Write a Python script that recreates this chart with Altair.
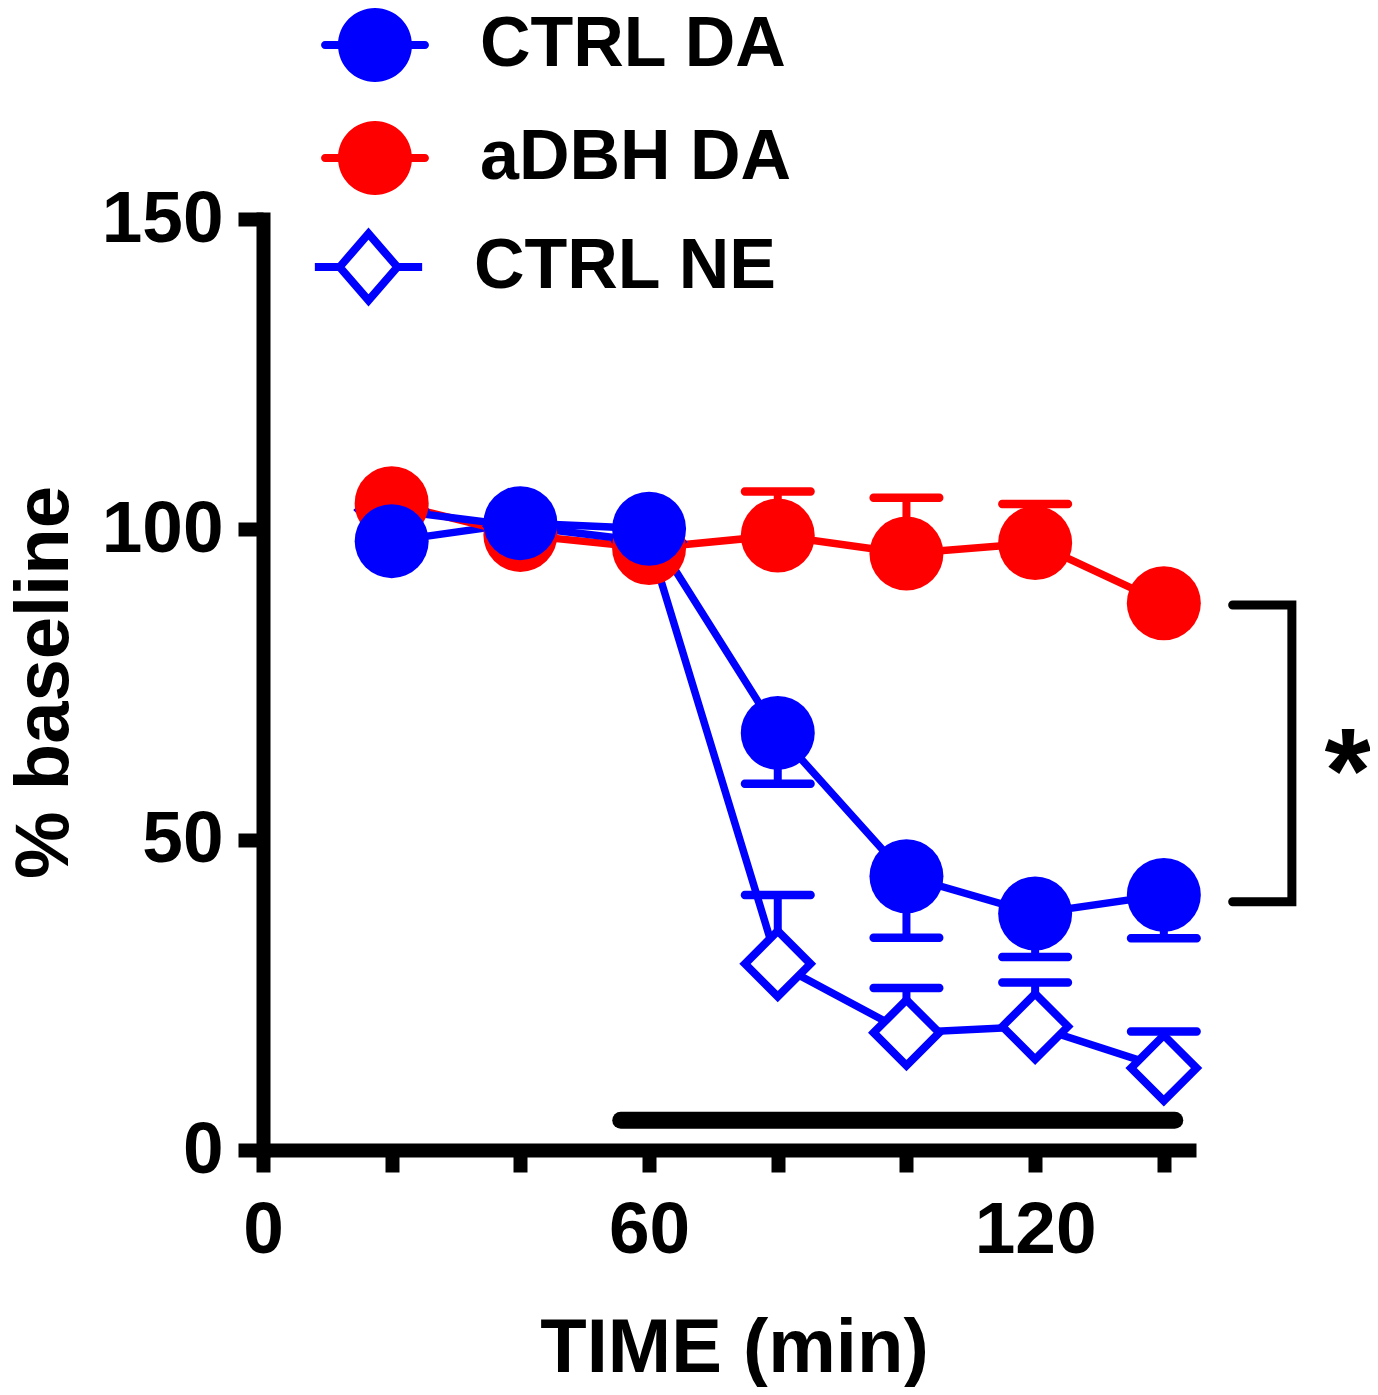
import altair as alt
import pandas as pd

FONT = "Liberation Sans"

# ---- data ----
time_min = [20, 40, 60, 80, 100, 120, 140]
series_names = ["CTRL DA", "aDBH DA", "CTRL NE"]
series_colors = ["#0000ff", "#ff0000", "#0000ff"]

ctrl_da = [98.1, 101.0, 100.1, 67.2, 44.1, 38.1, 41.1]
adbh_da = [104.2, 99.1, 97.0, 99.0, 96.1, 97.8, 88.1]
ctrl_ne = [103.1, 100.5, 98.0, 30.0, 18.9, 19.9, 13.2]

ctrl_da_sem = [None, None, None, 8.2, 9.9, 7.0, 7.0]
adbh_da_sem = [None, None, None, 7.1, 9.0, 6.3, None]
ctrl_ne_sem = [None, None, None, 11.1, 7.2, 7.1, 5.9]

# error bars drawn one-sided: down for CTRL DA, up for the others
err_direction = [-1, 1, 1]

# annotations
treatment_start = 55.6
treatment_end = 141.7
treatment_level = 4.8
bracket_time = [150.7, 159.9, 159.9, 150.7]
bracket_level = [87.8, 87.8, 40.0, 40.0]
star_time = [168.6]
star_level = [63.8]
star_text = ["*"]

# ---- tables ----
rows = []
for name, vals, sems, d in zip(series_names, [ctrl_da, adbh_da, ctrl_ne],
                               [ctrl_da_sem, adbh_da_sem, ctrl_ne_sem], err_direction):
    for t, v, s in zip(time_min, vals, sems):
        rows.append({"series": name, "time": t, "value": v,
                     "cap": (v + d * s) if s is not None else None})
df = pd.DataFrame(rows)
df_err = df.dropna(subset=["cap"])
df_ne = df[df.series == "CTRL NE"]
# red drawn first, blue on top
df_da = pd.concat([df[df.series == "aDBH DA"], df[df.series == "CTRL DA"]])

df_bar = pd.DataFrame({"time": [treatment_start], "time2": [treatment_end], "value": [treatment_level]})
df_bracket = pd.DataFrame({"time": bracket_time, "value": bracket_level, "idx": list(range(len(bracket_time)))})
df_star = pd.DataFrame({"time": star_time, "value": star_level, "label": star_text})

# ---- axes / scales ----
x_scale = alt.Scale(domain=[0, 145], nice=False, zero=False)
y_scale = alt.Scale(domain=[0, 150], nice=False, zero=False)

x_axis = alt.Axis(
    values=[0, 20, 40, 60, 80, 100, 120, 140],
    labelExpr="datum.value % 60 === 0 ? datum.label : ''",
    grid=False, domainWidth=14, domainColor="black", domainCap="butt",
    tickWidth=14, tickSize=22, tickColor="black",
    labelFont=FONT, labelFontSize=73, labelFontWeight="bold", labelColor="black",
    labelPadding=22, labelAngle=0, labelFlush=False, labelOverlap=False,
    title="TIME (min)", titleFont=FONT, titleFontSize=76, titleFontWeight="bold",
    titleColor="black", titleX=471, titleY=221, titleBaseline="alphabetic",
    titleAlign="center",
)
y_axis = alt.Axis(
    values=[0, 50, 100, 150],
    grid=False, domainWidth=14, domainColor="black", domainCap="square",
    tickWidth=14, tickSize=25, tickColor="black",
    labelFont=FONT, labelFontSize=73, labelFontWeight="bold", labelColor="black",
    labelPadding=15, labelOverlap=False,
    title="% baseline", titleFont=FONT, titleFontSize=76, titleFontWeight="bold",
    titleColor="black", titleAngle=270, titleX=-196, titleY=463,
    titleBaseline="alphabetic", titleAlign="center",
)

X = alt.X("time:Q", scale=x_scale, axis=x_axis)


def Y(field):
    return alt.Y(f"{field}:Q", scale=y_scale, axis=y_axis)


color_enc = alt.Color("series:N", scale=alt.Scale(domain=series_names, range=series_colors), legend=None)

CIRCLE_LEGEND = ("M1,0A1,1,0,1,1,-1,0A1,1,0,1,1,1,0Z"
                 "M0.95,-0.108L1.35,-0.108A0.108,0.108,0,0,1,1.35,0.108L0.95,0.108Z"
                 "M-0.95,0.108L-1.35,0.108A0.108,0.108,0,0,1,-1.35,-0.108L-0.95,-0.108Z")
DIAMOND_LEGEND = "M-0.78,0L0,-0.9L0.78,0L0,0.9ZM-1.45,0L-0.78,0M0.78,0L1.45,0"

legend_common = dict(
    title=None, orient="none", padding=0, symbolOpacity=1,
    labelFont=FONT, labelFontSize=70, labelFontWeight="bold", labelColor="black",
    labelLimit=800,
)
legend_da = alt.Legend(legendX=75, legendY=-211, symbolType=CIRCLE_LEGEND, symbolSize=5476,
                       symbolStrokeWidth=0, labelOffset=68, rowPadding=39, **legend_common)
legend_ne = alt.Legend(legendX=64.5, legendY=7, symbolType=DIAMOND_LEGEND, symbolSize=5476,
                       symbolStrokeWidth=8, symbolFillColor="white", labelOffset=64.5,
                       **legend_common)

base = alt.Chart(df)

lines = base.mark_line(strokeWidth=7.5).encode(x=X, y=Y("value"), color=color_enc)

err_rules = alt.Chart(df_err).mark_rule(strokeWidth=8).encode(
    x=X, y=Y("value"), y2="cap:Q", color=color_enc)
err_caps = alt.Chart(df_err).mark_tick(
    orient="horizontal", size=74, thickness=8.5, cornerRadius=4, opacity=1
).encode(x=X, y=Y("cap"), color=color_enc)

diamonds = alt.Chart(df_ne).mark_point(
    shape="diamond", size=4300, strokeWidth=8, filled=False, fill="white", opacity=1
).encode(
    x=X, y=Y("value"),
    stroke=alt.Stroke("series:N", scale=alt.Scale(domain=["CTRL NE"], range=["#0000ff"]), legend=legend_ne),
)

circles = alt.Chart(df_da).mark_point(
    shape="circle", size=5476, strokeWidth=0, filled=True, opacity=1
).encode(
    x=X, y=Y("value"),
    fill=alt.Fill("series:N", scale=alt.Scale(domain=["CTRL DA", "aDBH DA"], range=["#0000ff", "#ff0000"]),
                  legend=legend_da),
)

bar = alt.Chart(df_bar).mark_rule(color="black", strokeWidth=17, strokeCap="round").encode(
    x=X, x2="time2:Q", y=Y("value"))

bracket = alt.Chart(df_bracket).mark_line(
    color="black", strokeWidth=9, strokeCap="round", strokeJoin="miter"
).encode(x=X, y=Y("value"), order="idx:Q")

star = alt.Chart(df_star).mark_text(
    font=FONT, fontSize=120, fontWeight="bold", color="black", align="center",
    baseline="alphabetic", dy=58
).encode(x=X, y=Y("value"), text="label:N")

chart = alt.layer(lines, err_rules, err_caps, bar, bracket, star, diamonds, circles).properties(
    width=933, height=931,
    autosize=alt.AutoSizeParams(type="none"),
    padding={"left": 255, "top": 211, "right": 174, "bottom": 237},
    background="white",
).configure_view(strokeWidth=0)

chart.save("out.html", embed_options={"renderer": "svg", "actions": False})
